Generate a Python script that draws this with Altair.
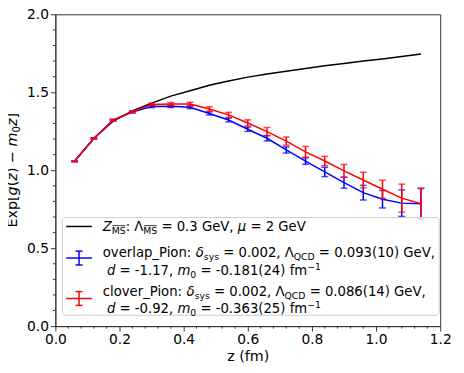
import altair as alt
import pandas as pd

# ---------------- data ----------------
z_vals = [0.06, 0.12, 0.18, 0.24, 0.30, 0.36, 0.42, 0.48, 0.54, 0.60,
          0.66, 0.72, 0.78, 0.84, 0.90, 0.96, 1.02, 1.08, 1.14]
zms_vals = [1.060, 1.205, 1.315, 1.380, 1.430, 1.475, 1.510, 1.545, 1.572, 1.597,
            1.617, 1.635, 1.653, 1.670, 1.685, 1.700, 1.714, 1.730, 1.745]
overlap_vals = [1.057, 1.204, 1.321, 1.373, 1.408, 1.410, 1.404, 1.364, 1.322, 1.263,
                1.205, 1.130, 1.059, 0.989, 0.920, 0.856, 0.814, 0.789, 0.785]
overlap_err = [0.003, 0.004, 0.005, 0.006, 0.007, 0.008, 0.009, 0.010, 0.012, 0.014,
               0.017, 0.020, 0.021, 0.030, 0.035, 0.047, 0.056, 0.085, 0.100]
clover_vals = [1.057, 1.204, 1.321, 1.375, 1.422, 1.424, 1.424, 1.393, 1.355, 1.303,
               1.248, 1.187, 1.118, 1.059, 0.996, 0.937, 0.878, 0.821, 0.785]
clover_err = [0.003, 0.004, 0.006, 0.007, 0.008, 0.010, 0.012, 0.014, 0.016, 0.020,
              0.026, 0.026, 0.035, 0.030, 0.041, 0.050, 0.058, 0.090, 0.097]

x_major = [0.0, 0.2, 0.4, 0.6, 0.8, 1.0, 1.2]
y_major = [0.0, 0.5, 1.0, 1.5, 2.0]
x_minor = [round(i * 0.04, 2) for i in range(31) if i % 5 != 0]
y_minor = [round(i * 0.1, 1) for i in range(21) if i % 5 != 0]

FONT = "DejaVu Sans"
W, H = 390, 316
BLUE, RED = "#0000ff", "#ff0000"

df_ms = pd.DataFrame({"z": z_vals, "v": zms_vals})
df_ov = pd.DataFrame({"z": z_vals, "v": overlap_vals,
                      "lo": [v - e for v, e in zip(overlap_vals, overlap_err)],
                      "hi": [v + e for v, e in zip(overlap_vals, overlap_err)]})
df_cl = pd.DataFrame({"z": z_vals, "v": clover_vals,
                      "lo": [v - e for v, e in zip(clover_vals, clover_err)],
                      "hi": [v + e for v, e in zip(clover_vals, clover_err)]})

xs = alt.Scale(domain=[0, 1.2], nice=False, zero=False)
ys = alt.Scale(domain=[0, 2.0], nice=False, zero=False)

xaxis = alt.Axis(values=x_major, format=".1f", title="z (fm)", grid=False,
                 labelFont=FONT, labelFontSize=14, labelColor="black",
                 titleFont=FONT, titleFontSize=14.5, titleFontWeight="normal",
                 titleColor="black", tickSize=5, tickColor="#333", domainColor="#333",
                 labelPadding=2, titlePadding=3, labelFlush=False, labelOverlap=False)
yaxis = alt.Axis(values=y_major, format=".1f", title=None, grid=False,
                 labelFont=FONT, labelFontSize=14, labelColor="black",
                 tickSize=5, tickColor="#333", domainColor="#333",
                 labelPadding=2, labelFlush=False, labelOverlap=False)

layers = []

# black Z_MS curve
layers.append(alt.Chart(df_ms).mark_line(color="black", strokeWidth=1.5).encode(
    x=alt.X("z:Q", scale=xs, axis=xaxis), y=alt.Y("v:Q", scale=ys, axis=yaxis)))


def series_layers(df, color):
    out = []
    out.append(alt.Chart(df).mark_line(color=color, strokeWidth=1.5).encode(
        x=alt.X("z:Q", scale=xs), y=alt.Y("v:Q", scale=ys)))
    out.append(alt.Chart(df).mark_rule(color=color, strokeWidth=1.5).encode(
        x=alt.X("z:Q", scale=xs), y=alt.Y("lo:Q", scale=ys), y2="hi:Q"))
    for c in ("lo", "hi"):
        out.append(alt.Chart(df).mark_tick(color=color, orient="horizontal", size=7,
                                           thickness=1.5).encode(
            x=alt.X("z:Q", scale=xs), y=alt.Y(c + ":Q", scale=ys)))
    return out


layers += series_layers(df_ov, BLUE)
layers += series_layers(df_cl, RED)

# minor ticks
layers.append(alt.Chart(pd.DataFrame({"m": x_minor})).mark_rule(color="#333", strokeWidth=1).encode(
    x=alt.X("m:Q", scale=xs), y=alt.value(H), y2=alt.value(H + 2.5)))
layers.append(alt.Chart(pd.DataFrame({"m": y_minor})).mark_rule(color="#333", strokeWidth=1).encode(
    y=alt.Y("m:Q", scale=ys), x=alt.value(-2.5), x2=alt.value(0)))

# ---------------- text helpers ----------------
ADV = {' ': 651, ':': 690, '_': 1024, '.': 651, ',': 651, '=': 1716, '(': 799,
       ')': 799, '-': 739, '−': 1716, '[': 799, ']': 799,
       'E': 1294, 'G': 1589, 'M': 1767, 'S': 1300, 'P': 1235, 'V': 1401, 'Q': 1612,
       'C': 1430, 'D': 1577, 'Z': 1403,
       'a': 1255, 'c': 1126, 'd': 1300, 'e': 1260, 'f': 721, 'g': 1300, 'i': 569,
       'l': 569, 'm': 1995, 'n': 1298, 'o': 1253, 'p': 1300, 'r': 842, 's': 1067,
       'v': 1212, 'x': 1212, 'y': 1212, 'z': 1094,
       'Λ': 1401, 'δ': 1253, 'μ': 1300}
for d in "0123456789":
    ADV[d] = 1303


def tw(t, fs):
    return sum(ADV.get(c, 1250) for c in t) / 2048 * fs


one = pd.DataFrame({"a": [0]})


def run(segs, x0, yc, fs, rotate=False):
    out = []
    pos = 0.0
    base = 0.36 * fs
    for t, st in segs:
        size = fs * 0.7 if st in ("sub", "subo", "sup") else fs
        off = base + (0.22 * fs if st in ("sub", "subo") else (-0.42 * fs if st == "sup" else 0))
        style = "italic" if st == "it" else "normal"
        w = tw(t, size)
        core = t.strip(" ")
        lead = tw(t[:len(t) - len(t.lstrip(" "))], size)
        wc = tw(core, size)
        if core:
            if not rotate:
                px, py = x0 + pos + lead, yc + off
                out.append(alt.Chart(one).mark_text(text=core, align="left", baseline="alphabetic",
                                                    font=FONT, fontSize=size, fontStyle=style,
                                                    color="black").encode(
                    x=alt.value(px), y=alt.value(py)))
                if st == "subo":
                    oy = py - 0.75 * size - 1
                    out.append(alt.Chart(one).mark_rule(color="black", strokeWidth=0.8).encode(
                        x=alt.value(px + 0.5), x2=alt.value(px + wc - 0.5), y=alt.value(oy)))
            else:
                px, py = x0 + off, yc - pos - lead
                out.append(alt.Chart(one).mark_text(text=core, align="left", baseline="alphabetic",
                                                    font=FONT, fontSize=size, fontStyle=style,
                                                    angle=270, color="black").encode(
                    x=alt.value(px), y=alt.value(py)))
        pos += w
    return out, pos


# ---------------- y title ----------------
ytitle = [("Exp[", "n"), ("g", "it"), ("(", "n"), ("z", "it"), (") − ", "n"),
          ("m", "it"), ("0", "sub"), ("z", "it"), ("]", "n")]
_, L = run(ytitle, 0, 0, 14.5)
yt, _ = run(ytitle, -44, H / 2 + L / 2, 14.5, rotate=True)
layers += yt

# ---------------- legend ----------------
layers.append(alt.Chart(one).mark_rect(fill="white", fillOpacity=0.8, stroke="#cccccc",
                                       strokeWidth=1, cornerRadius=3).encode(
    x=alt.value(7), x2=alt.value(389), y=alt.value(206), y2=alt.value(305)))

layers.append(alt.Chart(one).mark_rule(color="black", strokeWidth=1.5).encode(
    x=alt.value(11), x2=alt.value(37), y=alt.value(215)))


def marker(color, yc):
    ms = []
    ms.append(alt.Chart(one).mark_rule(color=color, strokeWidth=1.5).encode(
        x=alt.value(11), x2=alt.value(37), y=alt.value(yc)))
    ms.append(alt.Chart(one).mark_rule(color=color, strokeWidth=1.5).encode(
        x=alt.value(24), y=alt.value(yc - 7), y2=alt.value(yc + 7)))
    for yy in (yc - 7, yc + 7):
        ms.append(alt.Chart(one).mark_rule(color=color, strokeWidth=1.5).encode(
            x=alt.value(20.5), x2=alt.value(27.5), y=alt.value(yy)))
    return ms


layers += marker(BLUE, 247)
layers += marker(RED, 288)

LF = 13.4
line1 = [("Z", "it"), ("MS", "subo"), (": Λ", "n"), ("MS", "subo"),
         (" = 0.3 GeV, ", "n"), ("μ", "it"), (" = 2 GeV", "n")]
line2a = [("overlap_Pion: ", "n"), ("δ", "it"), ("sys", "sub"), (" = 0.002, Λ", "n"),
          ("QCD", "sub"), (" = 0.093(10) GeV,", "n")]
line2b = [(" ", "n"), ("d", "it"), (" = -1.17, ", "n"), ("m", "it"), ("0", "sub"),
          (" = -0.181(24) fm", "n"), ("−1", "sup")]
line3a = [("clover_Pion: ", "n"), ("δ", "it"), ("sys", "sub"), (" = 0.002, Λ", "n"),
          ("QCD", "sub"), (" = 0.086(14) GeV,", "n")]
line3b = [(" ", "n"), ("d", "it"), (" = -0.92, ", "n"), ("m", "it"), ("0", "sub"),
          (" = -0.363(25) fm", "n"), ("−1", "sup")]

for segs, yc in ((line1, 214.5), (line2a, 241), (line2b, 259.5),
                 (line3a, 281), (line3b, 298)):
    m, _ = run(segs, 48, yc, LF)
    layers += m

chart = alt.layer(*layers).properties(
    width=W, height=H,
    autosize=alt.AutoSizeParams(type="none"),
    padding={"left": 48, "top": 4, "right": 16, "bottom": 37},
).configure_view(stroke="#333", strokeWidth=1)

chart.save("out.html", embed_options={"renderer": "svg", "actions": False})
